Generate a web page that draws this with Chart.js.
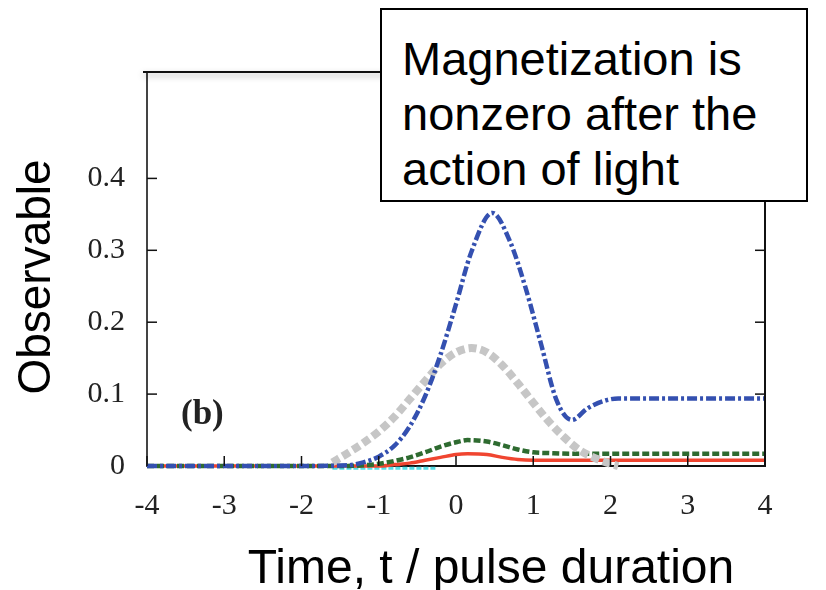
<!DOCTYPE html>
<html>
<head>
<meta charset="utf-8">
<script src="https://cdn.jsdelivr.net/npm/chart.js@4"></script>
<style>
  html, body { margin: 0; padding: 0; background: #fff; }
  #wrap { position: relative; width: 826px; height: 590px; }
  #note {
    position: absolute; left: 380px; top: 8px; width: 428px; height: 194px;
    box-sizing: border-box; border: 2px solid #000; background: #fff;
    padding: 21px 0 0 20px;
    font-family: "Liberation Sans", Arial, sans-serif; font-size: 47px; line-height: 55px; color: #000;
  }
</style>
</head>
<body>
<div id="wrap">
  <canvas id="chart"></canvas>
  <div id="note">Magnetization is<br>nonzero after the<br>action of light</div>
</div>
<script>
// axis ticks
const xTicks = [-4, -3, -2, -1, 0, 1, 2, 3, 4];
const yTicks = [0, 0.1, 0.2, 0.3, 0.4];

// blue dash-dot curve
const tBlue = [-4, -2, -1.4, -1.2, -1, -0.8, -0.6, -0.4, -0.2, 0, 0.2, 0.47, 0.7, 0.9, 1.1, 1.3, 1.5, 1.7, 1.9, 2.1, 2.5, 4];
const blueValues = [0, 0, 0.001, 0.005, 0.013, 0.028, 0.055, 0.097, 0.155, 0.225, 0.298, 0.352, 0.312, 0.248, 0.17, 0.092, 0.064, 0.08, 0.09, 0.094, 0.094, 0.094];

// grey thick dashed curve
const tGrey = [-1.6, -1.4, -1.2, -1.0, -0.8, -0.6, -0.4, -0.2, 0, 0.2, 0.4, 0.6, 0.8, 1.0, 1.2, 1.4, 1.6, 1.8, 2.0, 2.1];
const greyValues = [0.005, 0.018, 0.032, 0.048, 0.068, 0.093, 0.118, 0.142, 0.158, 0.164, 0.158, 0.14, 0.115, 0.088, 0.062, 0.04, 0.022, 0.011, 0.003, 0];

// green dashed curve
const tGreen = [-4, -2, -1.4, -1.2, -1, -0.8, -0.6, -0.4, -0.2, 0, 0.15, 0.4, 0.6, 0.8, 1.0, 1.2, 1.5, 4];
const greenValues = [0, 0, 0, 0.001, 0.003, 0.007, 0.012, 0.019, 0.027, 0.033, 0.036, 0.034, 0.029, 0.023, 0.019, 0.018, 0.017, 0.017];

// red solid curve
const tRed = [-4, -1, -0.8, -0.6, -0.4, -0.2, 0, 0.15, 0.4, 0.6, 0.8, 1.0, 1.2, 4];
const redValues = [0, 0, 0.002, 0.004, 0.008, 0.012, 0.016, 0.017, 0.016, 0.012, 0.009, 0.008, 0.008, 0.008];

// cyan dotted piece just under the axis
const tCyan = [-1.6, -0.25];
const cyanValues = [-0.003, -0.003];

const pts = (ts, vs) => ts.map((t, i) => ({ x: t, y: vs[i] }));

function line(ctx, x1, y1, x2, y2) {
  ctx.beginPath();
  ctx.moveTo(x1, y1);
  ctx.lineTo(x2, y2);
  ctx.stroke();
}

// frame, inward ticks and the big labels
const framePlugin = {
  id: 'frame',
  afterDraw(chart) {
    const { ctx, chartArea: a, scales: { x, y } } = chart;
    ctx.save();
    ctx.strokeStyle = '#111';
    ctx.lineWidth = 2;
    ctx.shadowColor = 'rgba(0,0,0,0.35)';
    ctx.shadowBlur = 6;
    ctx.shadowOffsetY = 3;
    line(ctx, a.left - 4, a.top, a.right, a.top);
    ctx.shadowColor = 'transparent';
    line(ctx, a.right, a.top, a.right, a.bottom);

    ctx.lineWidth = 1.5;
    xTicks.forEach(v => {
      const px = x.getPixelForValue(v);
      line(ctx, px, a.bottom, px, a.bottom - 10);
    });
    yTicks.forEach(v => {
      if (v === 0) return;
      const py = y.getPixelForValue(v);
      line(ctx, a.left, py, a.left + 10, py);
      line(ctx, a.right, py, a.right - 10, py);
    });

    ctx.fillStyle = '#222';
    ctx.font = 'bold 35px "Liberation Serif", serif';
    ctx.textAlign = 'left';
    ctx.textBaseline = 'middle';
    ctx.fillText('(b)', 181, 415);

    ctx.fillStyle = '#000';
    ctx.font = '48px "Liberation Sans", Arial, sans-serif';
    ctx.textBaseline = 'alphabetic';
    ctx.textAlign = 'center';
    ctx.fillText('Time, t / pulse duration', 491, 583);

    ctx.font = '46px "Liberation Sans", Arial, sans-serif';
    ctx.translate(50, 277);
    ctx.rotate(-Math.PI / 2);
    ctx.fillText('Observable', 0, 0);
    ctx.restore();
  }
};

new Chart(document.getElementById('chart'), {
  type: 'line',
  data: {
    datasets: [
      {
        label: 'blue',
        data: pts(tBlue, blueValues),
        borderColor: '#3450b0',
        borderWidth: 4.5,
        borderDash: [10, 3, 3, 3],
        cubicInterpolationMode: 'monotone'
      },
      {
        label: 'grey',
        data: pts(tGrey, greyValues),
        borderColor: '#c6c6c6',
        borderWidth: 8,
        borderDash: [8, 4],
        cubicInterpolationMode: 'monotone'
      },
      {
        label: 'green',
        data: pts(tGreen, greenValues),
        borderColor: '#2e6b30',
        borderWidth: 4.5,
        borderDash: [7, 3],
        cubicInterpolationMode: 'monotone'
      },
      {
        label: 'red',
        data: pts(tRed, redValues),
        borderColor: '#f04530',
        borderWidth: 3.5,
        cubicInterpolationMode: 'monotone'
      },
      {
        label: 'cyan',
        data: pts(tCyan, cyanValues),
        borderColor: '#55dde6',
        borderWidth: 3,
        borderDash: [5, 2]
      }
    ]
  },
  options: {
    responsive: true,
    maintainAspectRatio: false,
    animation: false,
    clip: 8,
    elements: { point: { radius: 0 } },
    layout: { padding: { left: 0, top: 72, right: 61, bottom: 0 } },
    plugins: {
      legend: { display: false },
      tooltip: { enabled: false }
    },
    scales: {
      x: {
        type: 'linear',
        min: -4,
        max: 4,
        afterBuildTicks: s => { s.ticks = xTicks.map(v => ({ value: v })); },
        afterFit: s => { s.height = 124; },
        grid: { drawOnChartArea: false, drawTicks: false },
        border: { color: '#111', width: 2 },
        ticks: {
          padding: 22,
          color: '#222',
          font: { family: '"Liberation Serif", serif', size: 30 },
          callback: v => String(v)
        }
      },
      y: {
        min: 0,
        max: 0.548,
        afterBuildTicks: s => { s.ticks = yTicks.map(v => ({ value: v })); },
        afterFit: s => { s.width = 147; },
        grid: { drawOnChartArea: false, drawTicks: false },
        border: { color: '#444', width: 2 },
        ticks: {
          padding: 22,
          color: '#222',
          font: { family: '"Liberation Serif", serif', size: 30 },
          callback: v => String(v)
        }
      }
    }
  },
  plugins: [framePlugin]
});
</script>
</body>
</html>
